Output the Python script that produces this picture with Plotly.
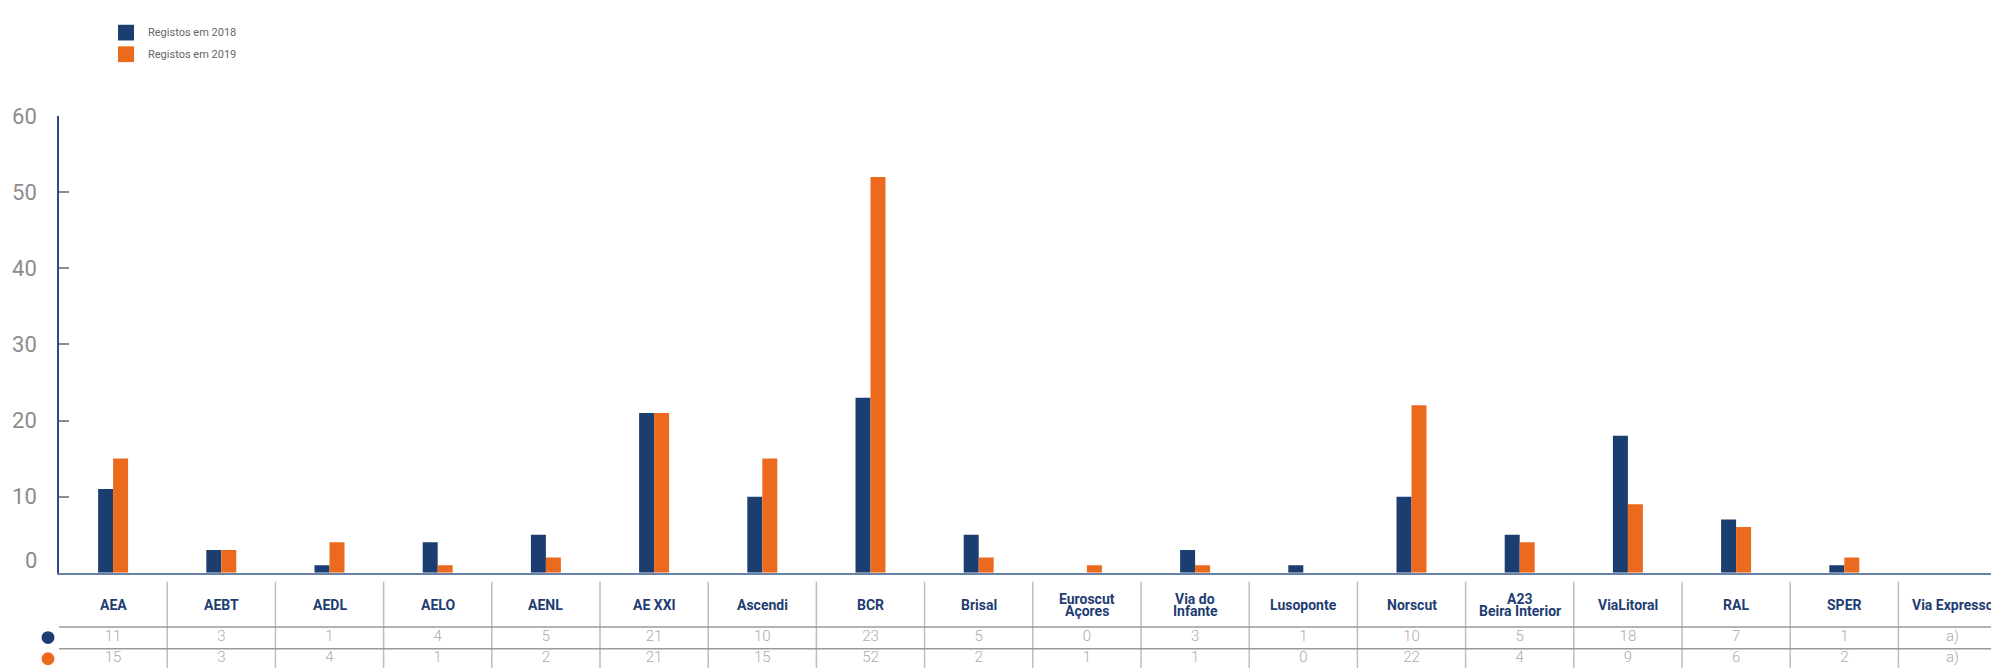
import plotly.graph_objects as go

# ---------------- data ----------------
categories = ["AEA", "AEBT", "AEDL", "AELO", "AENL", "AE XXI", "Ascendi", "BCR",
              "Brisal", "Euroscut<br>Açores", "Via do<br>Infante", "Lusoponte",
              "Norscut", "A23<br>Beira Interior", "ViaLitoral", "RAL", "SPER",
              "Via Expresso"]
registos_2018 = [11, 3, 1, 4, 5, 21, 10, 23, 5, 0, 3, 1, 10, 5, 18, 7, 1, None]
registos_2019 = [15, 3, 4, 1, 2, 21, 15, 52, 2, 1, 1, 0, 22, 4, 9, 6, 2, None]
series_names = ["Registos em 2018", "Registos em 2019"]
y_ticks = [0, 10, 20, 30, 40, 50, 60]
missing_label = "a)"

# ---------------- style / layout ----------------
W, H = 1991, 668
L = 59                      # left margin (y-axis line)
PLOT_W = W - L
CAT_W = 108.2               # pixel width of one category column
X_RANGE = [-0.5, -0.5 + PLOT_W / CAT_W]
NAVY = "#1b3d6f"
ORANGE = "#ec6a1e"
HEADER_COL = "#1f3d72"
VAL_COL = "#ababab"
TICK_COL = "#8c8c8c"
FONT = "Roboto"


def pyp(y):  # pixel y -> paper y
    return (H - y) / H


def pxp(x):  # pixel x -> paper x
    return (x - L) / PLOT_W


TABLE_H = H - 580           # table area height (pixels) -> yaxis2 range

fig = go.Figure()
fig.add_trace(go.Bar(x=categories, y=registos_2018, name=series_names[0],
                     marker=dict(color=NAVY, line=dict(width=0)), showlegend=False))
fig.add_trace(go.Bar(x=categories, y=registos_2019, name=series_names[1],
                     marker=dict(color=ORANGE, line=dict(width=0)), showlegend=False))

# table value rows (drawn on the lower subplot sharing the x axis)
row_y = [H - 637, H - 658.3]
for vals, yy in zip([registos_2018, registos_2019], row_y):
    txt = [missing_label if v is None else str(v) for v in vals]
    fig.add_trace(go.Scatter(x=categories, y=[yy] * len(categories), yaxis="y2",
                             mode="text", text=txt, cliponaxis=False,
                             textfont=dict(family=FONT, size=15, color=VAL_COL, weight=300),
                             hoverinfo="skip", showlegend=False))

annotations = []
# table headers
for cat in categories:
    lines = cat.split("<br>")
    if len(lines) == 1:
        ys = [H - 604]
    else:
        ys = [H - 598, H - 610]
    for ln, yy in zip(lines, ys):
        annotations.append(dict(x=cat, y=yy, xref="x", yref="y2", text=ln,
                                showarrow=False, xanchor="center", yanchor="middle",
                                font=dict(family=FONT, size=14, color=HEADER_COL, weight="bold")))

# the "0" tick label sits just above the baseline in the reference
annotations.append(dict(x=pxp(39), y=0, xref="paper", yref="y", text=str(y_ticks[0]),
                        showarrow=False, xanchor="right", yanchor="bottom", yshift=-2,
                        font=dict(family=FONT, size=22, color=TICK_COL)))

shapes = []
# vertical separators
for i in range(len(categories) - 1):
    shapes.append(dict(type="line", xref="x", yref="y2", x0=i + 0.5, x1=i + 0.5,
                       y0=0, y1=TABLE_H, line=dict(color="#bdbdbd", width=1.5)))
# horizontal separators
for yy in [H - 626.3, H - 648.3]:
    shapes.append(dict(type="line", xref="x", yref="y2", x0=-0.5, x1=len(categories),
                       y0=yy, y1=yy, line=dict(color="#9a9a9a", width=1.5)))
# row markers (dots)
for yy, col in zip([637, 658.5], [NAVY, ORANGE]):
    shapes.append(dict(type="circle", xref="paper", yref="paper",
                       x0=pxp(41.5), x1=pxp(54.5), y0=pyp(yy + 6.5), y1=pyp(yy - 6.5),
                       fillcolor=col, line=dict(width=0)))

# custom legend
for k, (name, col) in enumerate(zip(series_names, [NAVY, ORANGE])):
    top = 13 + 22 * k
    shapes.append(dict(type="rect", xref="paper", yref="paper",
                       x0=pxp(118), x1=pxp(134), y0=pyp(top + 16), y1=pyp(top),
                       fillcolor=col, line=dict(width=0)))
    annotations.append(dict(x=pxp(146), y=pyp(top + 8), xref="paper", yref="paper",
                            text=name, showarrow=False, xanchor="left", yanchor="middle",
                            font=dict(family=FONT, size=11, color="#666666")))

fig.update_layout(
    width=W, height=H,
    margin=dict(l=L, r=0, t=0, b=0, pad=0),
    paper_bgcolor="white", plot_bgcolor="white",
    barmode="group", bargap=0.723, bargroupgap=0,
    font=dict(family=FONT),
    xaxis=dict(type="category", categoryarray=categories, range=X_RANGE,
               showline=True, linecolor="#6882a8", linewidth=2,
               showticklabels=False, ticks="", showgrid=False, zeroline=False,
               anchor="y"),
    yaxis=dict(domain=[pyp(571), pyp(106)], range=[0, 60], tickvals=y_ticks,
               ticktext=[""] + [str(v) for v in y_ticks[1:]],
               ticks="inside", ticklen=10, tickwidth=1.5, tickcolor=TICK_COL,
               showline=True, linecolor="#2b4c88", linewidth=1.5,
               showgrid=False, zeroline=False, ticklabelstandoff=16,
               tickfont=dict(family=FONT, size=22, color=TICK_COL), anchor="x"),
    yaxis2=dict(domain=[0, pyp(580)], range=[0, TABLE_H], visible=False,
                showgrid=False, zeroline=False, anchor="x"),
    shapes=shapes, annotations=annotations,
    showlegend=False,
)

pin_js = ("var d=document.getElementById('{plot_id}');"
          "d.style.position='fixed';d.style.top='0px';d.style.left='0px';"
          "document.documentElement.style.overflow='hidden';"
          "document.body.style.margin='0';document.body.style.overflow='hidden';")
fig.write_html("out.html", config={"displayModeBar": False}, post_script=pin_js)
